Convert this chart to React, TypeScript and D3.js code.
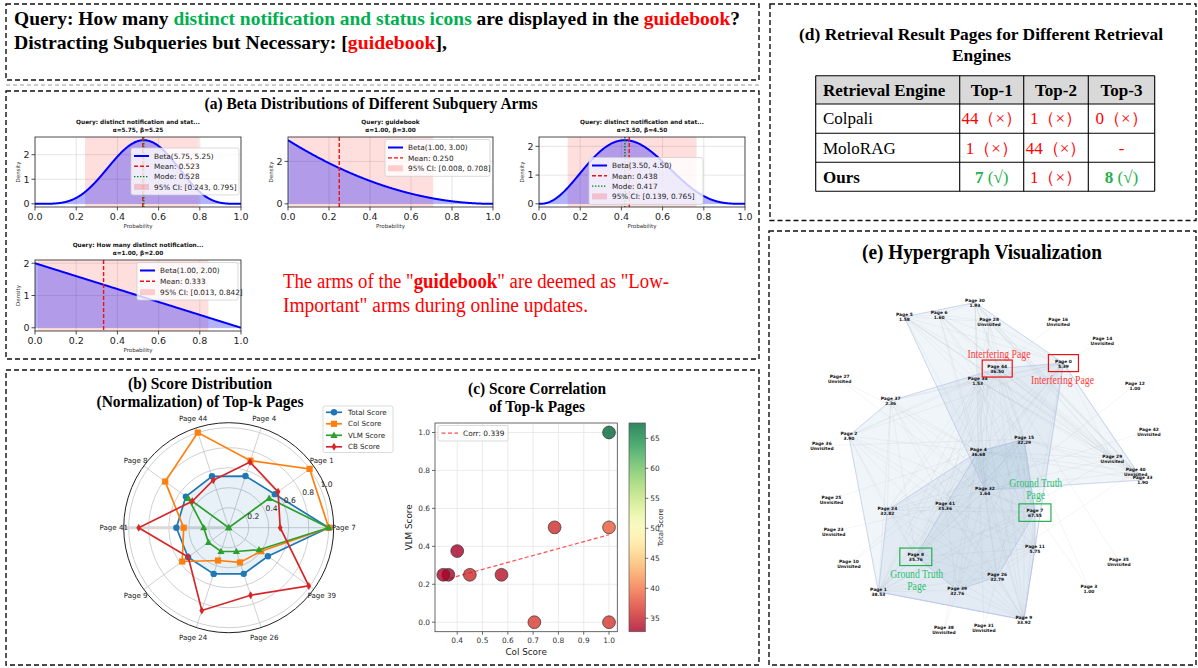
import React from 'react';
import * as d3 from 'd3';

const SERIF = '"Liberation Serif", "Times New Roman", Times, serif';
const SANS = '"DejaVu Sans", Verdana, sans-serif';
const RED = '#ff0000';
const GREEN = '#00b050';

// ---------- query header ----------
const queryPrefix = 'Query: How many ';
const queryFocus = 'distinct notification and status icons';
const queryMiddle = ' are displayed in the ';
const queryDoc = 'guidebook';
const distractLabel = 'Distracting Subqueries but Necessary: [';
const distractItems = ['guidebook'];

// ---------- (a) beta posteriors of subquery arms ----------
const armTitles = [
  'Query: distinct notification and stat...',
  'Query: guidebook',
  'Query: distinct notification and stat...',
  'Query: How many distinct notification...',
];
const armAlpha = [5.75, 1.0, 3.5, 1.0];
const armBeta = [5.25, 3.0, 4.5, 2.0];
const armMean = [0.523, 0.25, 0.438, 0.333];
const armMode: (number | null)[] = [0.528, null, 0.417, null];
const armCiLow = [0.243, 0.008, 0.139, 0.013];
const armCiHigh = [0.795, 0.708, 0.765, 0.842];
const betaXTicks = [0, 0.2, 0.4, 0.6, 0.8, 1.0];
const betaYTicks = [[0, 1, 2], [0, 2], [0, 1, 2], [0, 1, 2]];

// ---------- (b)/(c) top-k pages ----------
const topPageNames = ['Page 7', 'Page 1', 'Page 4', 'Page 44', 'Page 8', 'Page 41', 'Page 9', 'Page 24', 'Page 26', 'Page 39'];
const totalScores = [67.55, 38.53, 36.68, 36.5, 35.76, 35.36, 33.92, 32.82, 32.79, 32.76];
const colScores = [1.0, 1.0, 0.705, 1.0, 0.785, 0.45, 0.575, 0.345, 0.365, 0.4];
const vlmScores = [1.0, 0.5, 0.0, 0.0, 0.5, 0.25, 0.25, 0.25, 0.25, 0.375];
const cbScores = [0.515, 0.61, 0.69, 0.5, 0.45, 0.9, 0.5, 0.87, 0.71, 0.99];
const radarTicks = [0.2, 0.4, 0.6, 0.8, 1.0];
const scatterXTicks = [0.4, 0.5, 0.6, 0.7, 0.8, 0.9, 1.0];
const scatterYTicks = [0, 0.2, 0.4, 0.6, 0.8, 1.0];
const colorbarTicks = [35, 40, 45, 50, 55, 60, 65];
const trendX = [0.345, 1.0];
const trendY = [0.222, 0.461];

// ---------- (d) retrieval table ----------
const engineNames = ['Colpali', 'MoloRAG', 'Ours'];
const topHeaders = ['Top-1', 'Top-2', 'Top-3'];
const retrievedPages = [['44', '1', '0'], ['1', '44', '-'], ['7', '1', '8']];
const retrievedCorrect = [[false, false, false], [false, false, false], [true, false, true]];

// ---------- (e) hypergraph ----------
const nodeIds = [30, 5, 6, 28, 16, 14, 44, 0, 34, 27, 12, 37, 42, 2, 15, 36, 4, 29, 40, 33, 32, 25, 41, 24, 7, 23, 11, 8, 35, 10, 26, 3, 39, 1, 31, 38, 9];
const nodeScores = ['1.93', '1.58', '1.60', 'Unvisited', 'Unvisited', 'Unvisited', '36.50', '5.39', '1.53', 'Unvisited', '1.00', '2.36', 'Unvisited', '3.90', '32.29', 'Unvisited', '36.68', 'Unvisited', 'Unvisited', '1.90', '1.64', 'Unvisited', '35.36', '32.82', '67.55', 'Unvisited', '5.75', '35.76', 'Unvisited', 'Unvisited', '32.79', '1.00', '32.76', '38.53', 'Unvisited', 'Unvisited', '33.92'];
const nodeX = [47.3, 28.2, 37.6, 51.1, 69.8, 81.7, 53.3, 71.2, 48.0, 10.7, 90.5, 24.5, 94.3, 13.2, 60.6, 5.9, 48.2, 84.4, 90.7, 92.6, 50.0, 8.5, 39.2, 23.6, 63.5, 9.1, 63.5, 31.3, 86.2, 13.2, 53.3, 78.1, 42.5, 21.2, 49.7, 38.9, 60.5];
const nodeY = [3.7, 7.9, 7.3, 9.3, 9.3, 14.8, 23.1, 21.5, 26.5, 26.2, 28.0, 32.6, 41.5, 42.9, 43.9, 45.8, 47.5, 49.5, 53.3, 55.9, 58.9, 61.5, 63.5, 64.8, 65.4, 71.0, 76.0, 78.4, 79.9, 80.6, 84.3, 87.7, 88.3, 88.8, 99.3, 99.9, 97.0];
const hyperedges = [
  [30, 5, 6, 28, 44, 0, 34, 4, 15, 32, 29, 40, 33],
  [2, 37, 34, 44, 0, 11, 9, 1, 24, 8, 41, 4, 7],
  [24, 4, 15, 7, 11, 9, 1, 41, 8, 32, 26, 39],
  [4, 15, 7, 32, 41, 8, 26, 39],
];
const extraLinks = [[27, 4], [27, 32], [36, 15], [25, 4], [23, 41], [10, 4], [10, 15], [38, 39], [38, 4], [31, 4], [31, 26], [3, 7], [3, 15], [35, 44], [12, 8], [42, 24], [14, 0], [16, 44], [29, 1], [40, 39]];
const interferingPages = [44, 0];
const groundTruthPages = [7, 8];

// ---------- helpers ----------
function lgamma(z: number): number {
  const c = [0.99999999999980993, 676.5203681218851, -1259.1392167224028, 771.32342877765313, -176.61502916214059, 12.507343278686905, -0.13857109526572012, 9.9843695780195716e-6, 1.5056327351493116e-7];
  if (z < 0.5) return Math.log(Math.PI / Math.sin(Math.PI * z)) - lgamma(1 - z);
  z -= 1;
  let s = c[0];
  for (let k = 1; k < 9; k++) s += c[k] / (z + k);
  const t = z + 7.5;
  return 0.5 * Math.log(2 * Math.PI) + (z + 0.5) * Math.log(t) - t + Math.log(s);
}

function betaPdf(x: number, a: number, b: number): number {
  const lB = lgamma(a) + lgamma(b) - lgamma(a + b);
  const t1 = a === 1 ? 0 : x <= 0 ? -Infinity : (a - 1) * Math.log(x);
  const t2 = b === 1 ? 0 : x >= 1 ? -Infinity : (b - 1) * Math.log(1 - x);
  return Math.exp(t1 + t2 - lB);
}

function pearson(xs: number[], ys: number[]): number {
  const mx = d3.mean(xs)!, my = d3.mean(ys)!;
  let sxy = 0, sxx = 0, syy = 0;
  xs.forEach((x, k) => {
    sxy += (x - mx) * (ys[k] - my);
    sxx += (x - mx) ** 2;
    syy += (ys[k] - my) ** 2;
  });
  return sxy / Math.sqrt(sxx * syy);
}

function DashedBox({ x, y, w, h }: { x: number; y: number; w: number; h: number }) {
  return <rect x={x} y={y} width={w} height={h} fill="none" stroke="#111" strokeWidth={1.4} strokeDasharray="5 3" />;
}

// ---------- header ----------
function QueryBox() {
  return (
    <g>
      <DashedBox x={6} y={4} w={753} h={76} />
      <line x1={6} x2={759} y1={85} y2={85} stroke="#9a9a9a" strokeWidth={1} strokeDasharray="4 3" />
      <text x={14} y={24.5} fontFamily={SERIF} fontWeight="bold" fontSize={19} textLength={726} lengthAdjust="spacingAndGlyphs">
        <tspan>{queryPrefix}</tspan>
        <tspan fill={GREEN}>{queryFocus}</tspan>
        <tspan>{queryMiddle}</tspan>
        <tspan fill={RED}>{queryDoc}</tspan>
        <tspan>?</tspan>
      </text>
      <text x={14} y={49} fontFamily={SERIF} fontWeight="bold" fontSize={19} textLength={433} lengthAdjust="spacingAndGlyphs">
        <tspan>{distractLabel}</tspan>
        <tspan fill={RED}>{distractItems[0]}</tspan>
        <tspan>],</tspan>
      </text>
    </g>
  );
}

// ---------- (a) ----------
const betaRects = [
  { x: 35, y: 137, w: 206, h: 70 },
  { x: 288, y: 137, w: 205, h: 70 },
  { x: 539, y: 137, w: 206, h: 70 },
  { x: 35, y: 260, w: 206, h: 71 },
];
const betaLegends = [
  { x: 131, y: 148, w: 108, step: 10.3 },
  { x: 385, y: 139.5, w: 105, step: 10.4 },
  { x: 589, y: 157.5, w: 114, step: 10.3 },
  { x: 137, y: 262.5, w: 101, step: 10.8 },
];

function BetaPanel({ i }: { i: number }) {
  const r = betaRects[i];
  const a = armAlpha[i], b = armBeta[i];
  const xs = d3.range(0, 1.00001, 0.0025);
  const pts: [number, number][] = xs.map((v) => [v, betaPdf(v, a, b)]);
  const yMax = d3.max(pts, (p) => p[1])!;
  const x = d3.scaleLinear().domain([0, 1]).range([r.x, r.x + r.w]);
  const y = d3.scaleLinear().domain([-0.05 * yMax, 1.05 * yMax]).range([r.y + r.h, r.y]);
  const area = d3.area<[number, number]>().x((d) => x(d[0])).y0(y(0)).y1((d) => y(d[1]));
  const line = d3.line<[number, number]>().x((d) => x(d[0])).y((d) => y(d[1]));
  const clipId = `beta-clip-${i}`;
  const entries: { kind: string; label: string }[] = [
    { kind: 'line', label: `Beta(${a.toFixed(2)}, ${b.toFixed(2)})` },
    { kind: 'dash', label: `Mean: ${armMean[i].toFixed(3)}` },
  ];
  if (armMode[i] != null) entries.push({ kind: 'dot', label: `Mode: ${(armMode[i] as number).toFixed(3)}` });
  entries.push({ kind: 'patch', label: `95% CI: [${armCiLow[i].toFixed(3)}, ${armCiHigh[i].toFixed(3)}]` });
  const lg = betaLegends[i];
  const lgH = 16 + (entries.length - 1) * lg.step;
  const titleLines = [armTitles[i], `α=${a.toFixed(2)}, β=${b.toFixed(2)}`];
  return (
    <g>
      <clipPath id={clipId}>
        <rect x={r.x} y={r.y} width={r.w} height={r.h} />
      </clipPath>
      {titleLines.map((t, k) => (
        <text key={k} x={r.x + r.w / 2} y={r.y - 12.7 + k * 7.7} textAnchor="middle" fontSize={5.8} fontWeight="bold" fill="#111">
          {t}
        </text>
      ))}
      <g clipPath={`url(#${clipId})`}>
        {betaXTicks.map((t) => (
          <line key={'gx' + t} x1={x(t)} x2={x(t)} y1={r.y} y2={r.y + r.h} stroke="#b0b0b0" strokeOpacity={0.45} strokeWidth={0.7} />
        ))}
        {betaYTicks[i].map((t) => (
          <line key={'gy' + t} x1={r.x} x2={r.x + r.w} y1={y(t)} y2={y(t)} stroke="#b0b0b0" strokeOpacity={0.45} strokeWidth={0.7} />
        ))}
        <rect x={x(armCiLow[i])} y={r.y} width={x(armCiHigh[i]) - x(armCiLow[i])} height={r.h} fill="#ff0000" fillOpacity={0.13} />
        <path d={area(pts)!} fill="#0000ff" fillOpacity={0.3} />
        <path d={line(pts)!} fill="none" stroke="#0000ff" strokeWidth={2} />
        <line x1={x(armMean[i])} x2={x(armMean[i])} y1={r.y} y2={r.y + r.h} stroke="#ee1111" strokeWidth={1.4} strokeDasharray="4 2" />
        {armMode[i] != null && (
          <line x1={x(armMode[i] as number)} x2={x(armMode[i] as number)} y1={r.y} y2={r.y + r.h} stroke="#008000" strokeWidth={1.4} strokeDasharray="1.4 1.6" />
        )}
      </g>
      <rect x={r.x} y={r.y} width={r.w} height={r.h} fill="none" stroke="#222" strokeWidth={0.8} />
      {betaXTicks.map((t) => (
        <g key={'tx' + t}>
          <line x1={x(t)} x2={x(t)} y1={r.y + r.h} y2={r.y + r.h + 3.5} stroke="#222" strokeWidth={0.8} />
          <text x={x(t)} y={r.y + r.h + 13} textAnchor="middle" fontSize={9.5} fill="#222">
            {t.toFixed(1)}
          </text>
        </g>
      ))}
      {betaYTicks[i].map((t) => (
        <g key={'ty' + t}>
          <line x1={r.x - 3.5} x2={r.x} y1={y(t)} y2={y(t)} stroke="#222" strokeWidth={0.8} />
          <text x={r.x - 5.5} y={y(t) + 3.4} textAnchor="end" fontSize={9.5} fill="#222">
            {t}
          </text>
        </g>
      ))}
      <text x={r.x + r.w / 2} y={r.y + r.h + 20.5} textAnchor="middle" fontSize={5.5} fill="#333">
        Probability
      </text>
      <text transform={`translate(${r.x - 16.5},${r.y + r.h / 2}) rotate(-90)`} textAnchor="middle" fontSize={5.5} fill="#333" dy="0.35em">
        Density
      </text>
      <rect x={lg.x} y={lg.y} width={lg.w} height={lgH} rx={2} fill="#fff" fillOpacity={0.8} stroke="#cccccc" strokeWidth={0.7} />
      {entries.map((e, k) => {
        const cy = lg.y + 8 + k * lg.step;
        return (
          <g key={k}>
            {e.kind === 'line' && <line x1={lg.x + 3} x2={lg.x + 18} y1={cy} y2={cy} stroke="#0000ff" strokeWidth={2} />}
            {e.kind === 'dash' && <line x1={lg.x + 3} x2={lg.x + 18} y1={cy} y2={cy} stroke="#ee1111" strokeWidth={1.4} strokeDasharray="4 2" />}
            {e.kind === 'dot' && <line x1={lg.x + 3} x2={lg.x + 18} y1={cy} y2={cy} stroke="#008000" strokeWidth={1.4} strokeDasharray="1.4 1.6" />}
            {e.kind === 'patch' && <rect x={lg.x + 3} y={cy - 3} width={15} height={6} fill="#ff0000" fillOpacity={0.18} />}
            <text x={lg.x + 23} y={cy + 2.7} fontSize={7.3} fill="#222">
              {e.label}
            </text>
          </g>
        );
      })}
    </g>
  );
}

function BetaSection() {
  return (
    <g>
      <DashedBox x={6} y={91} w={753} h={268} />
      <text x={371} y={108.5} textAnchor="middle" fontFamily={SERIF} fontWeight="bold" fontSize={17} textLength={333} lengthAdjust="spacingAndGlyphs">
        (a) Beta Distributions of Different Subquery Arms
      </text>
      {betaRects.map((_, i) => (
        <BetaPanel key={i} i={i} />
      ))}
      <text x={283} y={287.5} fontFamily={SERIF} fontSize={20} fill={RED} textLength={386} lengthAdjust="spacingAndGlyphs">
        <tspan>The arms of the "</tspan>
        <tspan fontWeight="bold">guidebook</tspan>
        <tspan>" are deemed as "Low-</tspan>
      </text>
      <text x={283} y={311.5} fontFamily={SERIF} fontSize={20} fill={RED} textLength={305} lengthAdjust="spacingAndGlyphs">
        Important" arms during online updates.
      </text>
    </g>
  );
}

// ---------- (b) radar ----------
const RC = { x: 228.7, y: 527.7 };
const rScale = d3.scaleLinear().domain([0, 1.05]).range([0, 105]);
const angleOf = (k: number) => (k / topPageNames.length) * 2 * Math.PI;
const polar = (k: number, v: number): [number, number] => [RC.x + rScale(v) * Math.cos(angleOf(k)), RC.y - rScale(v) * Math.sin(angleOf(k))];

function Marker({ kind, x, y, color }: { kind: string; x: number; y: number; color: string }) {
  if (kind === 'o') return <circle cx={x} cy={y} r={3.2} fill={color} />;
  if (kind === 's') return <rect x={x - 3.1} y={y - 3.1} width={6.2} height={6.2} fill={color} />;
  if (kind === '^') return <path d={`M${x},${y - 3.8}L${x + 3.6},${y + 2.6}L${x - 3.6},${y + 2.6}Z`} fill={color} />;
  return <path d={`M${x},${y - 4}L${x + 2.4},${y}L${x},${y + 4}L${x - 2.4},${y}Z`} fill={color} />;
}

function RadarPanel() {
  const maxTotal = d3.max(totalScores)!;
  const series = [
    { name: 'Total Score', values: totalScores.map((v) => v / maxTotal), color: '#1f77b4', marker: 'o' },
    { name: 'Col Score', values: colScores, color: '#ff7f0e', marker: 's' },
    { name: 'VLM Score', values: vlmScores, color: '#2ca02c', marker: '^' },
    { name: 'CB Score', values: cbScores, color: '#d62728', marker: 'd' },
  ];
  const line = d3.line<[number, number]>().curve(d3.curveLinearClosed);
  const tickAngle = (24 * Math.PI) / 180;
  return (
    <g>
      <text x={200} y={389} textAnchor="middle" fontFamily={SERIF} fontWeight="bold" fontSize={17.5} textLength={144} lengthAdjust="spacingAndGlyphs">
        (b) Score Distribution
      </text>
      <text x={200} y={406.7} textAnchor="middle" fontFamily={SERIF} fontWeight="bold" fontSize={17.5} textLength={207} lengthAdjust="spacingAndGlyphs">
        (Normalization) of Top-k Pages
      </text>
      {radarTicks.map((t) => (
        <circle key={t} cx={RC.x} cy={RC.y} r={rScale(t)} fill="none" stroke="#c4c4c4" strokeWidth={0.8} />
      ))}
      {topPageNames.map((_, k) => {
        const [ex, ey] = polar(k, 1.05);
        return <line key={k} x1={RC.x} y1={RC.y} x2={ex} y2={ey} stroke="#c4c4c4" strokeWidth={0.8} />;
      })}
      <line x1={RC.x} y1={RC.y} x2={polar(5, 1.04)[0]} y2={RC.y} stroke="#d9d9d9" strokeWidth={3} />
      <circle cx={RC.x} cy={RC.y} r={rScale(1.05)} fill="none" stroke="#222" strokeWidth={1} />
      <path d={line(series[0].values.map((v, k) => polar(k, v)))!} fill="#1f77b4" fillOpacity={0.1} stroke="none" />
      {series.map((s) => (
        <g key={s.name}>
          <path d={line(s.values.map((v, k) => polar(k, v)))!} fill="none" stroke={s.color} strokeWidth={1.7} />
          {s.values.map((v, k) => {
            const [px, py] = polar(k, v);
            return <Marker key={k} kind={s.marker} x={px} y={py} color={s.color} />;
          })}
        </g>
      ))}
      {radarTicks.map((t) => (
        <text key={'rt' + t} x={RC.x + (rScale(t) + 7) * Math.cos(tickAngle)} y={RC.y - (rScale(t) + 7) * Math.sin(tickAngle)} dy="0.35em" textAnchor="middle" fontSize={7.6} fill="#222">
          {t.toFixed(1)}
        </text>
      ))}
      {topPageNames.map((p, k) => (
        <text key={p} x={RC.x + 115 * Math.cos(angleOf(k))} y={RC.y - 115 * Math.sin(angleOf(k))} dy="0.35em" textAnchor="middle" fontSize={7.1} fill="#222">
          {p}
        </text>
      ))}
      <rect x={323} y={406} width={70} height={46.5} rx={2} fill="#fff" fillOpacity={0.85} stroke="#cccccc" strokeWidth={0.7} />
      {series.map((s, k) => {
        const cy = 412.3 + k * 11.5;
        return (
          <g key={'lg' + s.name}>
            <line x1={326} x2={342} y1={cy} y2={cy} stroke={s.color} strokeWidth={1.7} />
            <Marker kind={s.marker} x={334} y={cy} color={s.color} />
            <text x={348} y={cy + 2.5} fontSize={7.1} fill="#222">
              {s.name}
            </text>
          </g>
        );
      })}
    </g>
  );
}

// ---------- (c) scatter ----------
function ScatterPanel() {
  const ax = { x: 435, y: 423, w: 182.3, h: 208.7 };
  const xr = d3.extent(colScores) as [number, number];
  const xPad = (xr[1] - xr[0]) * 0.05;
  const x = d3.scaleLinear().domain([xr[0] - xPad, xr[1] + xPad]).range([ax.x, ax.x + ax.w]);
  const y = d3.scaleLinear().domain([-0.05, 1.05]).range([ax.y + ax.h, ax.y]);
  const tr = d3.extent(totalScores) as [number, number];
  const norm = d3.scaleLinear().domain(tr).range([0, 1]);
  const color = (v: number) => d3.interpolateRdYlGn(norm(v));
  const cb = { x: 629, y: 423, w: 16.3, h: 208.7 };
  const cbY = d3.scaleLinear().domain(tr).range([cb.y + cb.h, cb.y]);
  const stops = d3.range(0, 1.0001, 0.05);
  const corr = pearson(colScores, vlmScores);
  const order = d3.range(colScores.length).sort((p, q) => totalScores[p] - totalScores[q]);
  return (
    <g>
      <text x={537} y={393.5} textAnchor="middle" fontFamily={SERIF} fontWeight="bold" fontSize={17.5} textLength={138} lengthAdjust="spacingAndGlyphs">
        (c) Score Correlation
      </text>
      <text x={537} y={412} textAnchor="middle" fontFamily={SERIF} fontWeight="bold" fontSize={17.5} textLength={96} lengthAdjust="spacingAndGlyphs">
        of Top-k Pages
      </text>
      {scatterXTicks.map((t) => (
        <line key={'gx' + t} x1={x(t)} x2={x(t)} y1={ax.y} y2={ax.y + ax.h} stroke="#e6e6e6" strokeWidth={0.8} />
      ))}
      {scatterYTicks.map((t) => (
        <line key={'gy' + t} x1={ax.x} x2={ax.x + ax.w} y1={y(t)} y2={y(t)} stroke="#e6e6e6" strokeWidth={0.8} />
      ))}
      <line x1={x(trendX[0])} y1={y(trendY[0])} x2={x(trendX[1])} y2={y(trendY[1])} stroke="#ff4d4d" strokeWidth={1.2} strokeDasharray="4 2.5" />
      {order.map((k) => (
        <circle key={k} cx={x(colScores[k])} cy={y(vlmScores[k])} r={6.4} fill={color(totalScores[k])} fillOpacity={0.8} stroke="#333" strokeWidth={0.7} />
      ))}
      <rect x={ax.x} y={ax.y} width={ax.w} height={ax.h} fill="none" stroke="#444" strokeWidth={0.8} />
      {scatterXTicks.map((t) => (
        <g key={'tx' + t}>
          <line x1={x(t)} x2={x(t)} y1={ax.y + ax.h} y2={ax.y + ax.h + 3} stroke="#444" strokeWidth={0.8} />
          <text x={x(t)} y={ax.y + ax.h + 11} textAnchor="middle" fontSize={7.4} fill="#333">
            {t.toFixed(1)}
          </text>
        </g>
      ))}
      {scatterYTicks.map((t) => (
        <g key={'ty' + t}>
          <line x1={ax.x - 3} x2={ax.x} y1={y(t)} y2={y(t)} stroke="#444" strokeWidth={0.8} />
          <text x={ax.x - 5} y={y(t) + 2.7} textAnchor="end" fontSize={7.4} fill="#333">
            {t.toFixed(1)}
          </text>
        </g>
      ))}
      <text x={ax.x + ax.w / 2} y={655} textAnchor="middle" fontSize={8.8} fill="#222">
        Col Score
      </text>
      <text transform={`translate(409,${ax.y + ax.h / 2}) rotate(-90)`} dy="0.35em" textAnchor="middle" fontSize={8.8} fill="#222">
        VLM Score
      </text>
      <rect x={438} y={425.5} width={70} height={15.5} rx={2} fill="#fff" fillOpacity={0.85} stroke="#cccccc" strokeWidth={0.7} />
      <line x1={441.5} x2={458} y1={433.2} y2={433.2} stroke="#ff4d4d" strokeWidth={1.2} strokeDasharray="4 2.5" />
      <text x={463} y={435.8} fontSize={7.4} fill="#222">
        {`Corr: ${corr.toFixed(3)}`}
      </text>
      <defs>
        <linearGradient id="cbar" x1="0" x2="0" y1="1" y2="0">
          {stops.map((s) => (
            <stop key={s} offset={s} stopColor={d3.interpolateRdYlGn(s)} />
          ))}
        </linearGradient>
      </defs>
      <rect x={cb.x} y={cb.y} width={cb.w} height={cb.h} fill="url(#cbar)" fillOpacity={0.8} stroke="#555" strokeWidth={0.7} />
      {colorbarTicks.map((t) => (
        <g key={'cb' + t}>
          <line x1={cb.x + cb.w} x2={cb.x + cb.w + 3} y1={cbY(t)} y2={cbY(t)} stroke="#444" strokeWidth={0.8} />
          <text x={cb.x + cb.w + 5} y={cbY(t) + 2.7} fontSize={7.4} fill="#333">
            {t}
          </text>
        </g>
      ))}
      <text transform={`translate(661,${cb.y + cb.h / 2}) rotate(-90)`} dy="0.35em" textAnchor="middle" fontSize={6.9} fill="#222">
        Total Score
      </text>
    </g>
  );
}

// ---------- (d) table ----------
function TablePanel() {
  const cols = [815.7, 959.7, 1023.7, 1088.3, 1154.7];
  const rows = [75.7, 104, 133.3, 162.3, 191.3];
  const mid = (arr: number[], k: number) => (arr[k] + arr[k + 1]) / 2;
  return (
    <g fontFamily={SERIF}>
      <DashedBox x={770} y={4} w={426} h={216.5} />
      <text x={981} y={39.5} textAnchor="middle" fontWeight="bold" fontSize={17} textLength={364} lengthAdjust="spacingAndGlyphs">
        (d) Retrieval Result Pages for Different Retrieval
      </text>
      <text x={981.5} y={60.5} textAnchor="middle" fontWeight="bold" fontSize={17} textLength={59} lengthAdjust="spacingAndGlyphs">
        Engines
      </text>
      <rect x={cols[0]} y={rows[0]} width={cols[4] - cols[0]} height={rows[1] - rows[0]} fill="#d9d9d9" />
      {rows.map((ry) => (
        <line key={'r' + ry} x1={cols[0]} x2={cols[4]} y1={ry} y2={ry} stroke="#000" strokeWidth={1.1} />
      ))}
      {cols.map((cx) => (
        <line key={'c' + cx} x1={cx} x2={cx} y1={rows[0]} y2={rows[4]} stroke="#000" strokeWidth={1.1} />
      ))}
      <text x={823} y={mid(rows, 0) + 5.8} fontWeight="bold" fontSize={17}>
        Retrieval Engine
      </text>
      {topHeaders.map((h, c) => (
        <text key={h} x={mid(cols, c + 1)} y={mid(rows, 0) + 5.8} textAnchor="middle" fontWeight="bold" fontSize={17}>
          {h}
        </text>
      ))}
      {engineNames.map((e, r) => (
        <g key={e}>
          <text x={823} y={mid(rows, r + 1) + 5.8} fontSize={17} fontWeight={e === 'Ours' ? 'bold' : 'normal'}>
            {e}
          </text>
          {retrievedPages[r].map((p, c) => {
            const cx = mid(cols, c + 1);
            const cy = mid(rows, r + 1) + 5.8;
            if (p === '-')
              return (
                <text key={c} x={cx} y={cy} textAnchor="middle" fontSize={17} fill={RED}>
                  -
                </text>
              );
            if (retrievedCorrect[r][c])
              return (
                <text key={c} x={cx} y={cy} textAnchor="middle" fontSize={17} fill="#22b14c">
                  <tspan fontWeight="bold">{p}</tspan>
                  <tspan>{' (√)'}</tspan>
                </text>
              );
            return (
              <text key={c} x={cx} y={cy} textAnchor="middle" fontSize={17} fill={RED}>
                {`${p}（×）`}
              </text>
            );
          })}
        </g>
      ))}
    </g>
  );
}

// ---------- (e) hypergraph ----------
function HypergraphPanel() {
  const hx = d3.scaleLinear().domain([0, 100]).range([800, 1170]);
  const hy = d3.scaleLinear().domain([0, 100]).range([290, 630]);
  const pos = new Map<number, [number, number]>(nodeIds.map((id, k) => [id, [hx(nodeX[k]), hy(nodeY[k])]]));
  const seen = new Set<string>();
  const links: [number, number][] = [];
  const addLink = (a: number, b: number) => {
    const key = a < b ? `${a}-${b}` : `${b}-${a}`;
    if (seen.has(key)) return;
    seen.add(key);
    links.push([a, b]);
  };
  hyperedges.forEach((he) => {
    for (let p = 0; p < he.length; p++) for (let q = p + 1; q < he.length; q++) addLink(he[p], he[q]);
  });
  extraLinks.forEach(([a, b]) => addLink(a, b));
  const hulls = hyperedges.map((he) => d3.polygonHull(he.map((id) => pos.get(id)!))!);
  const hullPath = (h: [number, number][]) => 'M' + h.map((p) => p.join(',')).join('L') + 'Z';
  const redAnno = '#ff3b3b';
  const greenAnno = '#2dbf6e';
  return (
    <g>
      <DashedBox x={769} y={231} w={427} h={434} />
      <text x={982} y={258.5} textAnchor="middle" fontFamily={SERIF} fontWeight="bold" fontSize={21} textLength={240} lengthAdjust="spacingAndGlyphs">
        (e) Hypergraph Visualization
      </text>
      {hulls.map((h, k) => (
        <path key={'hf' + k} d={hullPath(h)} fill="#4682b4" fillOpacity={0.08} stroke="none" />
      ))}
      {links.map(([a, b]) => {
        const pa = pos.get(a)!, pb = pos.get(b)!;
        return <line key={`${a}-${b}`} x1={pa[0]} y1={pa[1]} x2={pb[0]} y2={pb[1]} stroke="#8a94a6" strokeOpacity={0.2} strokeWidth={0.5} />;
      })}
      {hulls.map((h, k) => (
        <path key={'hs' + k} d={hullPath(h)} fill="none" stroke="#b3c0ea" strokeOpacity={0.8} strokeWidth={0.7} />
      ))}
      {nodeIds.map((id, k) => {
        const [px, py] = pos.get(id)!;
        return (
          <text key={id} x={px} y={py - 0.6} textAnchor="middle" fontSize={4.4} fontWeight="bold" fill="#111">
            <tspan x={px}>{`Page ${id}`}</tspan>
            <tspan x={px} dy={5}>
              {nodeScores[k]}
            </tspan>
          </text>
        );
      })}
      {interferingPages.map((id) => {
        const [px, py] = pos.get(id)!;
        return <rect key={'ib' + id} x={px - 15} y={py - 8.5} width={30} height={17} fill="none" stroke="#ee1111" strokeWidth={1.2} />;
      })}
      {groundTruthPages.map((id) => {
        const [px, py] = pos.get(id)!;
        return <rect key={'gb' + id} x={px - 16} y={py - 8.5} width={32} height={17.5} fill="none" stroke="#22b14c" strokeWidth={1.2} />;
      })}
      <g fontFamily={SERIF} fontSize={11.5}>
        <text x={999} y={357.5} textAnchor="middle" fill={redAnno} textLength={63} lengthAdjust="spacingAndGlyphs">
          Interfering Page
        </text>
        <text x={1062.5} y={384} textAnchor="middle" fill={redAnno} textLength={63} lengthAdjust="spacingAndGlyphs">
          Interfering Page
        </text>
        <text x={1035.7} y={486.5} textAnchor="middle" fill={greenAnno} textLength={53} lengthAdjust="spacingAndGlyphs">
          Ground Truth
        </text>
        <text x={1035.7} y={498.5} textAnchor="middle" fill={greenAnno} textLength={19} lengthAdjust="spacingAndGlyphs">
          Page
        </text>
        <text x={916.7} y={577.5} textAnchor="middle" fill={greenAnno} textLength={53} lengthAdjust="spacingAndGlyphs">
          Ground Truth
        </text>
        <text x={916.7} y={590} textAnchor="middle" fill={greenAnno} textLength={19} lengthAdjust="spacingAndGlyphs">
          Page
        </text>
      </g>
    </g>
  );
}

export default function App() {
  return (
    <svg width={1198} height={668} viewBox="0 0 1198 668" style={{ position: 'absolute', left: 0, top: 0, background: '#fff' }} fontFamily={SANS}>
      <rect width={1198} height={668} fill="#fff" />
      <QueryBox />
      <BetaSection />
      <DashedBox x={6} y={370} w={753} h={295} />
      <RadarPanel />
      <ScatterPanel />
      <TablePanel />
      <HypergraphPanel />
    </svg>
  );
}
